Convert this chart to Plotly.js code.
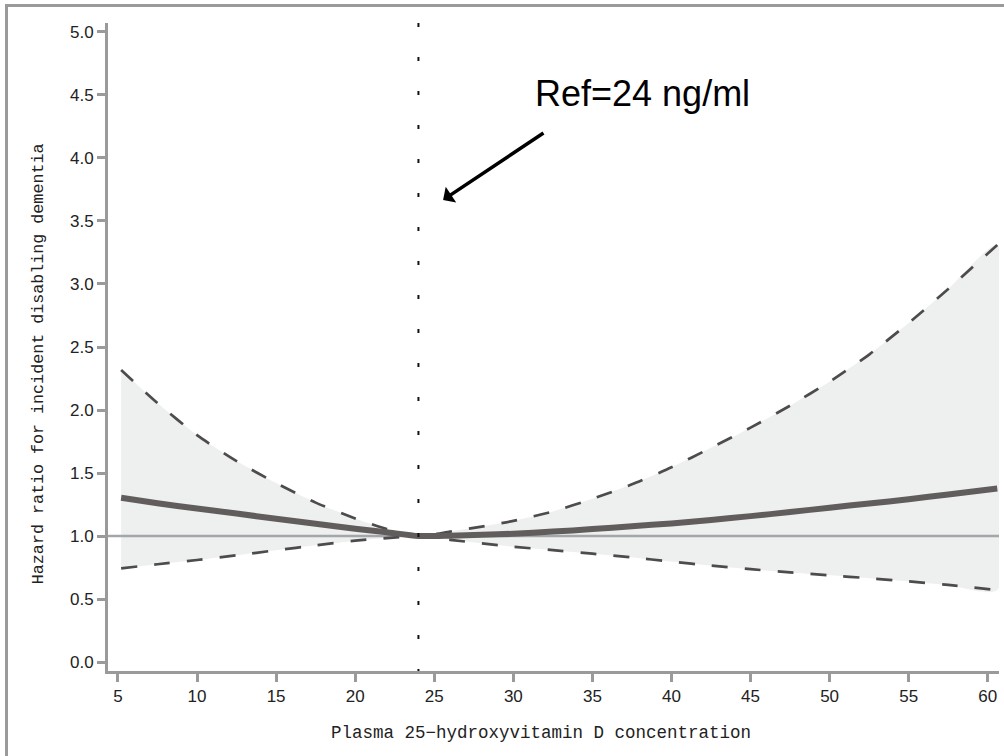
<!DOCTYPE html>
<html><head><meta charset="utf-8">
<script src="https://cdn.plot.ly/plotly-3.0.1.min.js"></script>
<style>
html,body{margin:0;padding:0;overflow:hidden;background:#fff}
#chart{width:1004px;height:756px}
#frame{position:absolute;left:5px;top:4px;width:1100px;height:900px;border-left:3px solid #9a9a9a;border-top:3px solid #9a9a9a;pointer-events:none}
</style></head>
<body><div id="chart"></div><div id="frame"></div>
<script>
// Plasma 25-hydroxyvitamin D (ng/ml)
const vitD  = [5.2, 7.5, 10, 12.5, 15, 17.5, 20, 22, 24, 26, 28, 30, 32.5, 35, 37.5, 40, 42.5, 45, 47.5, 50, 52.5, 55, 57.5, 60.6];
// Hazard ratio (point estimate)
const hr    = [1.304, 1.26, 1.218, 1.178, 1.137, 1.097, 1.058, 1.03, 1.0, 1.003, 1.01, 1.018, 1.035, 1.055, 1.078, 1.10, 1.128, 1.158, 1.19, 1.225, 1.258, 1.292, 1.33, 1.378];
// 95% CI upper / lower
const upper = [2.317, 2.055, 1.80, 1.595, 1.42, 1.265, 1.14, 1.055, 1.0, 1.035, 1.075, 1.12, 1.195, 1.295, 1.41, 1.545, 1.70, 1.86, 2.035, 2.225, 2.44, 2.69, 2.96, 3.31];
const lower = [0.744, 0.776, 0.81, 0.847, 0.887, 0.926, 0.963, 0.984, 1.0, 0.97, 0.942, 0.915, 0.888, 0.86, 0.83, 0.797, 0.765, 0.737, 0.711, 0.688, 0.665, 0.64, 0.612, 0.571];
const refVitD = 24;
const refHR = 1;
const xTicks = [5, 10, 15, 20, 25, 30, 35, 40, 45, 50, 55, 60];
const yTicks = [0, 0.5, 1, 1.5, 2, 2.5, 3, 3.5, 4, 4.5, 5];
const xRange = [4.37, 60.71];
const yRange = [-0.071, 5.071];
const annText = 'Ref=24 ng/ml';
const xTitle = 'Plasma 25\u2212hydroxyvitamin D concentration';
const yTitle = 'Hazard ratio for incident disabling dementia';

const band = {
  x: vitD.concat(vitD.slice().reverse()),
  y: upper.concat(lower.slice().reverse()),
  type: 'scatter', mode: 'lines', fill: 'toself', fillcolor: '#eeefef',
  line: {width: 0, shape: 'spline', smoothing: 0.6}, hoverinfo: 'skip', showlegend: false
};
const refLine = {
  x: xRange, y: [refHR, refHR], type: 'scatter', mode: 'lines',
  line: {color: '#a3a7a9', width: 2.5}, showlegend: false
};
const dashStyle = {color: '#4d4b4b', width: 2.7, dash: '16px,17px', shape: 'spline', smoothing: 0.6};
const up = {x: vitD, y: upper, type: 'scatter', mode: 'lines', line: dashStyle, showlegend: false};
const lo = {x: vitD, y: lower, type: 'scatter', mode: 'lines', line: dashStyle, showlegend: false};
const main = {x: vitD, y: hr, type: 'scatter', mode: 'lines',
  line: {color: '#615d5d', width: 6, shape: 'spline', smoothing: 0.6}, showlegend: false};

const axisCommon = {
  showline: true, linecolor: '#9a9a9a', linewidth: 3, mirror: false,
  ticks: 'outside', ticklen: 8, tickwidth: 3, tickcolor: '#9a9a9a',
  showgrid: false, zeroline: false
};

const layout = {
  width: 1004, height: 756,
  margin: {l: 108, r: 5, t: 23, b: 85},
  paper_bgcolor: '#fff', plot_bgcolor: '#fff',
  showlegend: false,
  xaxis: Object.assign({}, axisCommon, {range: xRange, tickvals: xTicks, ticktext: xTicks.map(String),
    tickfont: {family: 'Liberation Sans Narrow, Liberation Sans, Arial, sans-serif', size: 17, color: '#222'}}),
  yaxis: Object.assign({}, axisCommon, {range: yRange, tickvals: yTicks, ticktext: yTicks.map(v => v.toFixed(1)),
    tickfont: {family: 'Liberation Sans, Arial, sans-serif', size: 17, color: '#222'}}),
  shapes: [{
    type: 'line', xref: 'x', yref: 'paper', x0: refVitD, x1: refVitD, y0: 1, y1: 0,
    line: {color: '#111', width: 2, dash: '4px,30px'}
  }],
  annotations: [
    {x: 25.56, y: 3.667, ax: 32.0, ay: 4.206, xref: 'x', yref: 'y', axref: 'x', ayref: 'y',
     text: '', showarrow: true, arrowhead: 1, arrowsize: 0.9, arrowwidth: 3.5, arrowcolor: '#000', standoff: 0, startstandoff: 0},
    {x: 38.14, y: 4.508, xref: 'x', yref: 'y', text: annText, showarrow: false,
     xanchor: 'center', yanchor: 'middle', font: {family: 'Liberation Sans, Arial, sans-serif', size: 36, color: '#000'}},
    {x: 0.486, y: -0.0957, xref: 'paper', yref: 'paper', text: xTitle, showarrow: false,
     xanchor: 'center', yanchor: 'middle', font: {family: 'Liberation Mono, monospace', size: 17.5, color: '#222'}},
    {x: -0.0786, y: 0.475, xref: 'paper', yref: 'paper', text: yTitle, showarrow: false, textangle: -90,
     xanchor: 'center', yanchor: 'middle', font: {family: 'Liberation Mono, monospace', size: 16.7, color: '#222'}}
  ]
};

Plotly.newPlot('chart', [band, refLine, up, lo, main], layout, {staticPlot: true, displayModeBar: false});
</script>
</body></html>
